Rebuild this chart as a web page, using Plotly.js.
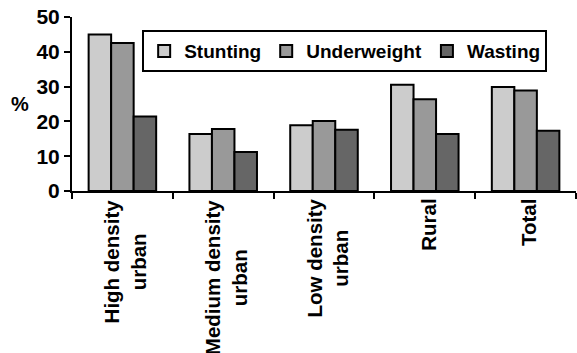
<!DOCTYPE html>
<html><head><meta charset="utf-8">
<script src="https://cdn.plot.ly/plotly-3.0.1.min.js"></script>
<style>body{margin:0;background:#fff}#c{width:577px;height:353px}</style>
</head><body><div id="c"></div>
<script>
var categories = ["High density<br>urban", "Medium density<br>urban", "Low density<br>urban", "Rural", "Total"];
var seriesNames = ["Stunting", "Underweight", "Wasting"];
var stunting = [45.0, 16.4, 18.9, 30.5, 29.9];
var underweight = [42.5, 17.8, 20.1, 26.4, 28.9];
var wasting = [21.4, 11.2, 17.6, 16.4, 17.3];
var yTicks = [0, 10, 20, 30, 40, 50];

var colors = ["#cccccc", "#999999", "#666666"];
var vals = [stunting, underweight, wasting];
var data = vals.map(function (v, i) {
  return {
    type: "bar", x: categories, y: v, name: seriesNames[i],
    marker: {color: colors[i], line: {color: "#000", width: 2}}
  };
});
var annotations = categories.map(function (c) {
  return {x: c, xref: "x", xshift: 3, y: 0, yref: "paper", yshift: -6,
    xanchor: "center", yanchor: "top", textangle: -90, align: "center",
    text: c, showarrow: false, font: {size: 20.5, weight: "bold", color: "#000"}};
});
annotations.push({x: 0, xref: "paper", xshift: -52, xanchor: "center",
  y: 0.5, yref: "paper", yanchor: "middle", text: "%",
  showarrow: false, font: {size: 20, weight: "bold", color: "#000"}});
var layout = {
  width: 577, height: 353,
  margin: {l: 72, r: 1, t: 17, b: 162},
  paper_bgcolor: "#fff", plot_bgcolor: "#fff",
  barmode: "group", bargap: 0.33, bargroupgap: 0,
  font: {family: "Liberation Sans, Arial, sans-serif", color: "#000"},
  showlegend: true,
  legend: {orientation: "h", x: 0.541, y: 0.925, xanchor: "center", yanchor: "top",
    bordercolor: "#000", borderwidth: 2, bgcolor: "#fff",
    font: {size: 19, weight: "bold"}, itemwidth: 30, tracegroupgap: 0},
  annotations: annotations,
  xaxis: {showline: true, linecolor: "#000", linewidth: 2, ticks: "outside",
    tickson: "boundaries", ticklen: 6, tickwidth: 2, tickcolor: "#000",
    showticklabels: false, showgrid: false, fixedrange: true},
  yaxis: {range: [0, 50], tickvals: yTicks, showline: true, linecolor: "#000", linewidth: 2,
    ticks: "outside", ticklen: 6, tickwidth: 2, tickcolor: "#000",
    tickfont: {size: 21, family: "Liberation Sans, Arial, sans-serif", weight: "bold"},
    showgrid: false, zeroline: false}
};
Plotly.newPlot("c", data, layout, {staticPlot: true});
</script></body></html>
